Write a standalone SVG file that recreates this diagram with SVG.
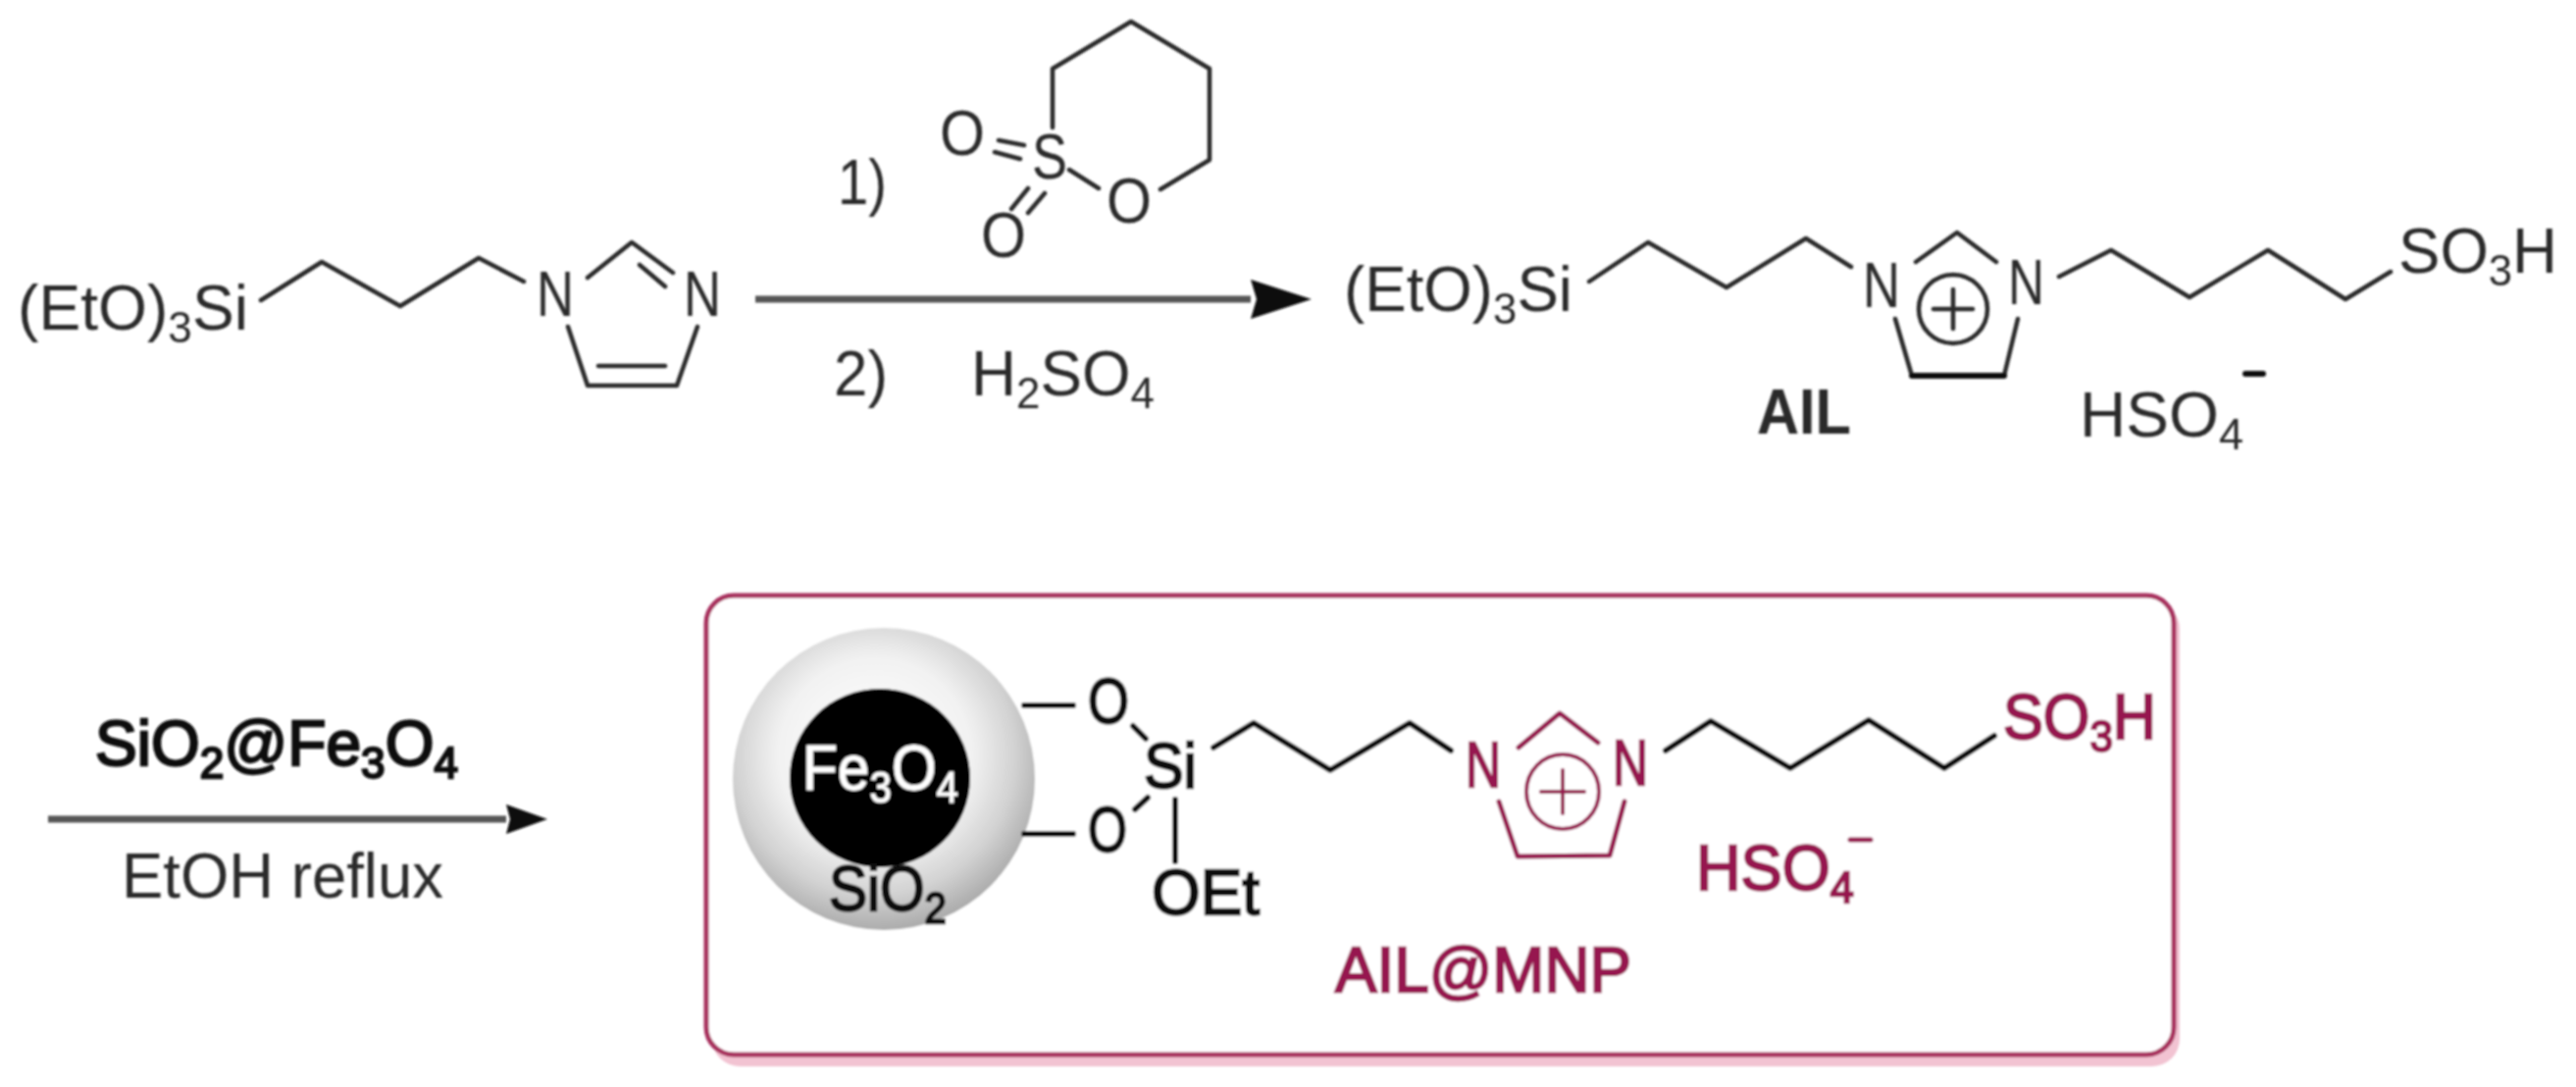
<svg xmlns="http://www.w3.org/2000/svg" width="2626" height="1108" viewBox="0 0 2626 1108">
<style>
text{font-family:"Liberation Sans",Arial,sans-serif;font-size:64px;fill:#2a2a2a;stroke:none}
.sub{font-size:44px}
.b{fill:none;stroke:#2a2a2a;stroke-width:4.5;stroke-linecap:round;stroke-linejoin:round}
.k{fill:none;stroke:#111;stroke-width:6;stroke-linecap:round;stroke-linejoin:round}
.m{fill:none;stroke:#96174f;stroke-width:5;stroke-linecap:round;stroke-linejoin:round}
.tk{fill:#111;stroke:#111;stroke-width:2.4}
.tm{fill:#96174f;stroke:#96174f;stroke-width:2.4}
.arrow{fill:none;stroke:#555;stroke-width:7}
</style>
<defs>
<marker id="headL" markerUnits="userSpaceOnUse" markerWidth="62" markerHeight="40" refX="0" refY="20" orient="auto"><polygon points="0,0 62,20 0,40 6,20" fill="#0c0c0c"/></marker>
<marker id="headS" markerUnits="userSpaceOnUse" markerWidth="42" markerHeight="30" refX="0" refY="15" orient="auto"><polygon points="0,0 42,15 0,30 4,15" fill="#0c0c0c"/></marker>
<radialGradient id="shell" cx="47%" cy="42%" r="58%">
<stop offset="0" stop-color="#fff"/><stop offset="0.55" stop-color="#f2f2f2"/><stop offset="0.8" stop-color="#d2d2d2"/><stop offset="1" stop-color="#acacac"/>
</radialGradient>
<filter id="soft" x="0" y="0" width="100%" height="100%" filterUnits="userSpaceOnUse"><feGaussianBlur stdDeviation="1.1"/></filter>
</defs>
<rect width="2626" height="1108" fill="#fff"/>
<g filter="url(#soft)">
<g id="frame">
<rect x="726" y="613" width="1496" height="474" rx="28" fill="#f2c3d2"/>
<rect x="720" y="607" width="1496" height="468" rx="28" fill="#fff" stroke="#a8305f" stroke-width="5"/>
</g>
<g id="connectors">
<line class="arrow" x1="770" y1="305" x2="1275" y2="305" marker-end="url(#headL)"/>
<line class="arrow" x1="49" y1="835" x2="516" y2="835" marker-end="url(#headS)"/>
</g>
<g id="reactant">
<text x="18" y="336" textLength="235" lengthAdjust="spacingAndGlyphs">(EtO)<tspan class="sub" dy="13">3</tspan><tspan dy="-13">Si</tspan></text>
<path class="b" d="M266 306L328 267L408 312L488 263L534 287"/>
<text x="547" y="322" textLength="38" lengthAdjust="spacingAndGlyphs">N</text>
<text x="697" y="322" textLength="38" lengthAdjust="spacingAndGlyphs">N</text>
<path class="b" d="M599 283L644 247L686 278M652 270L678 292M711 333L690 393L599 393L579 333M610 373L678 373"/>
</g>
<g id="sultone">
<path class="b" d="M1073 130L1073 70L1153 22L1233 70L1233 163L1183 193M1090 173L1120 192M1014 155L1040 162M1018 143L1044 148M1048 192L1031 213M1065 197L1048 217"/>
<text x="1052" y="182" textLength="36" lengthAdjust="spacingAndGlyphs">S</text>
<text x="1128" y="227" textLength="46" lengthAdjust="spacingAndGlyphs">O</text>
<text x="958" y="158" textLength="46" lengthAdjust="spacingAndGlyphs">O</text>
<text x="1000" y="262" textLength="46" lengthAdjust="spacingAndGlyphs">O</text>
<text x="854" y="208" textLength="50" lengthAdjust="spacingAndGlyphs">1)</text>
<text x="850" y="403" textLength="55" lengthAdjust="spacingAndGlyphs">2)</text>
<text x="990" y="403" textLength="187" lengthAdjust="spacingAndGlyphs">H<tspan class="sub" dy="13">2</tspan><tspan dy="-13">SO</tspan><tspan class="sub" dy="13">4</tspan></text>
</g>
<g id="ail">
<text x="1370" y="317" textLength="233" lengthAdjust="spacingAndGlyphs">(EtO)<tspan class="sub" dy="13">3</tspan><tspan dy="-13">Si</tspan></text>
<path class="b" d="M1620 287L1680 247L1760 293L1841 243L1887 272"/>
<text x="1899" y="313" textLength="38" lengthAdjust="spacingAndGlyphs">N</text>
<text x="2047" y="310" textLength="37" lengthAdjust="spacingAndGlyphs">N</text>
<path class="b" d="M1953 267L1995 237L2035 267M1932 325L1949 383L2043 383L2057 325"/>
<path class="k" d="M1949 383H2043"/>
<circle class="b" cx="1991" cy="315" r="35"/>
<path class="b" d="M1971 315H2011M1991 295V335"/>
<path class="b" d="M2099 282L2152 255L2232 303L2312 255L2391 305L2437 277"/>
<text x="2445" y="278" textLength="162" lengthAdjust="spacingAndGlyphs">SO<tspan class="sub" dy="13">3</tspan><tspan dy="-13">H</tspan></text>
<text x="1791" y="442" font-weight="700" textLength="96" lengthAdjust="spacingAndGlyphs">AIL</text>
<text x="2120" y="445" textLength="167" lengthAdjust="spacingAndGlyphs">HSO<tspan class="sub" dy="13">4</tspan></text>
<path class="k" d="M2289 381H2307"/>
</g>
<g id="reagent">
<text class="tk" x="97" y="780" textLength="370" lengthAdjust="spacingAndGlyphs">SiO<tspan class="sub" dy="13">2</tspan><tspan dy="-13">@Fe</tspan><tspan class="sub" dy="13">3</tspan><tspan dy="-13">O</tspan><tspan class="sub" dy="13">4</tspan></text>
<text x="124" y="915" textLength="328" lengthAdjust="spacingAndGlyphs">EtOH reflux</text>
</g>
<g id="particle">
<circle cx="901" cy="794" r="154" fill="url(#shell)"/>
<ellipse cx="897" cy="793" rx="92" ry="91" fill="#000"/>
<text x="818" y="805" textLength="159" lengthAdjust="spacingAndGlyphs" style="fill:#fff;stroke:#fff;stroke-width:1">Fe<tspan class="sub" dy="13">3</tspan><tspan dy="-13">O</tspan><tspan class="sub" dy="13">4</tspan></text>
<text class="tk" x="845" y="928" textLength="120" lengthAdjust="spacingAndGlyphs">SiO<tspan class="sub" dy="13">2</tspan></text>
</g>
<g id="ail-mnp">
<path class="k" d="M1044 719H1094M1044 850H1094M1155 740L1168 753M1170 813L1157 825M1198 815V878"/>
<path class="k" d="M1237 762L1278 737L1356 785L1437 737L1479 765"/>
<path class="k" d="M1698 765L1744 735L1825 783L1905 734L1982 783L2033 750"/>
<text class="tk" x="1109" y="737" textLength="42" lengthAdjust="spacingAndGlyphs">O</text>
<text class="tk" x="1109" y="868" textLength="40" lengthAdjust="spacingAndGlyphs">O</text>
<text class="tk" x="1166" y="803" textLength="54" lengthAdjust="spacingAndGlyphs">Si</text>
<text class="tk" x="1174" y="932" textLength="110" lengthAdjust="spacingAndGlyphs">OEt</text>
<text class="tm" x="1494" y="802" textLength="36" lengthAdjust="spacingAndGlyphs">N</text>
<text class="tm" x="1644" y="800" textLength="36" lengthAdjust="spacingAndGlyphs">N</text>
<path class="m" d="M1548 762L1590 727L1629 757M1528 817L1547 873L1641 872L1656 817"/>
<ellipse class="m" cx="1593" cy="807" rx="37" ry="38" style="stroke-width:4"/>
<path class="m" d="M1571 807H1615M1593 785V829" style="stroke-width:4"/>
<text class="tm" x="2042" y="753" textLength="156" lengthAdjust="spacingAndGlyphs">SO<tspan class="sub" dy="13">3</tspan><tspan dy="-13">H</tspan></text>
<text class="tm" x="1729" y="907" textLength="161" lengthAdjust="spacingAndGlyphs">HSO<tspan class="sub" dy="13">4</tspan></text>
<path class="m" d="M1886 856H1907"/>
<text class="tm" x="1361" y="1011" textLength="302" lengthAdjust="spacingAndGlyphs">AIL@MNP</text>
</g>
</g>
</svg>
